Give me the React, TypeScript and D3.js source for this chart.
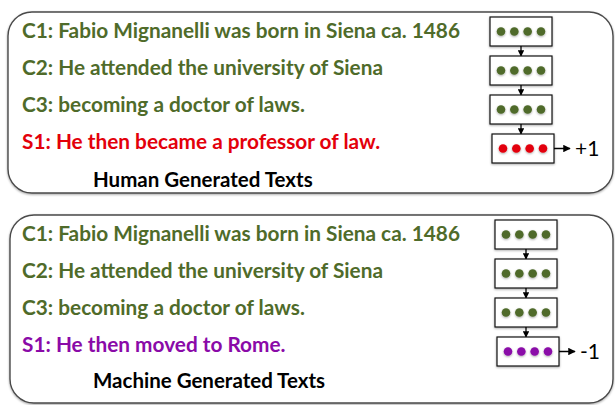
import { useEffect, useRef } from "react";
import * as d3 from "d3";

const panelTitles = ["Human Generated Texts", "Machine Generated Texts"];
const contextLines = [
  "C1: Fabio Mignanelli was born in Siena ca. 1486",
  "C2: He attended the university of Siena",
  "C3: becoming a doctor of laws.",
];
const candidateLines = ["S1: He then became a professor of law.", "S1: He then moved to Rome."];
const scores = ["+1", "-1"];
const candidateColors = ["#e3000b", "#8a0aa8"];
const dotsPerBox = [0, 1, 2, 3];

const GREEN = "#4f6b2a";
const FONT = "Lato, 'Open Sans', sans-serif";

export default function App() {
  const svgRef = useRef<SVGSVGElement | null>(null);

  useEffect(() => {
    const svgEl = svgRef.current;
    if (!svgEl) return;
    const width = 615;
    const height = 405;
    const svg = d3.select(svgEl);
    svg.selectAll("*").remove();
    svg.attr("viewBox", `0 0 ${width} ${height}`);

    const defs = svg.append("defs");
    defs
      .append("marker")
      .attr("id", "head")
      .attr("viewBox", "0 0 10 10")
      .attr("refX", 9)
      .attr("refY", 5)
      .attr("markerWidth", 5)
      .attr("markerHeight", 5)
      .attr("orient", "auto")
      .append("path")
      .attr("d", "M0,0 L10,5 L0,10 z")
      .attr("fill", "#000");
    const shadow = defs
      .append("filter")
      .attr("id", "soft")
      .attr("x", "-20%")
      .attr("y", "-20%")
      .attr("width", "140%")
      .attr("height", "160%");
    shadow
      .append("feDropShadow")
      .attr("dx", 0)
      .attr("dy", 1)
      .attr("stdDeviation", 0.8)
      .attr("flood-opacity", 0.35);

    // panel placement
    const panelY = d3.scalePoint<string>().domain(panelTitles).range([12, 215]);
    const rowY = d3.scalePoint<number>().domain([0, 1, 2, 3]).range([19, 130]);
    const boxY = d3.scalePoint<number>().domain([0, 1, 2, 3]).range([5, 122]);
    const boxH = 29;
    const dotX = d3.scalePoint<number>().domain(dotsPerBox).range([11, 51]);

    panelTitles.forEach((title, p) => {
      const y0 = panelY(title) ?? 0;
      const x0 = p === 0 ? 8 : 10;
      const boxX = p === 0 ? 490 : 495;
      const g = svg.append("g").attr("transform", `translate(0,${y0})`);

      g.append("rect")
        .attr("x", x0)
        .attr("y", 0)
        .attr("width", 613 - x0)
        .attr("height", p === 0 ? 181 : 188)
        .attr("rx", 24)
        .attr("fill", "#fff")
        .attr("stroke", "#4a4a4a")
        .attr("stroke-width", 1.4)
        .attr("filter", "url(#soft)");

      const lines = [...contextLines, candidateLines[p]];
      g.selectAll("text.line")
        .data(lines)
        .join("text")
        .attr("class", "line")
        .attr("x", 22)
        .attr("y", (_, i) => rowY(i) ?? 0)
        .attr("dy", "0.35em")
        .attr("font-family", FONT)
        .attr("font-weight", 700)
        .attr("font-size", 20.8)
        .attr("fill", (_, i) => (i < 3 ? GREEN : candidateColors[p]))
        .text((d) => d);

      g.append("text")
        .attr("x", 93)
        .attr("y", p === 0 ? 168 : 166)
        .attr("dy", "0.35em")
        .attr("font-family", FONT)
        .attr("font-weight", 700)
        .attr("font-size", 20.5)
        .attr("fill", "#000")
        .text(title);

      lines.forEach((_, i) => {
        const bx = boxX + (i === 3 ? 2 : 0);
        const by = boxY(i) ?? 0;
        const bg = g.append("g").attr("transform", `translate(${bx},${by})`);
        bg.append("rect")
          .attr("width", 62)
          .attr("height", boxH)
          .attr("fill", "#fff")
          .attr("stroke", "#111")
          .attr("stroke-width", 1.2)
          .attr("filter", "url(#soft)");
        bg.selectAll("circle")
          .data(dotsPerBox)
          .join("circle")
          .attr("cx", (d) => dotX(d) ?? 0)
          .attr("cy", boxH / 2)
          .attr("r", 4.3)
          .attr("fill", i < 3 ? GREEN : candidateColors[p])
          .attr("filter", "url(#soft)");

        if (i < 3) {
          const nextTop = boxY(i + 1) ?? 0;
          g.append("line")
            .attr("x1", bx + 31)
            .attr("x2", bx + 31)
            .attr("y1", by + boxH)
            .attr("y2", nextTop)
            .attr("stroke", "#000")
            .attr("stroke-width", 1.3)
            .attr("marker-end", "url(#head)");
        } else {
          g.append("line")
            .attr("x1", bx + 62)
            .attr("x2", bx + 78)
            .attr("y1", by + boxH / 2)
            .attr("y2", by + boxH / 2)
            .attr("stroke", "#000")
            .attr("stroke-width", 1.5)
            .attr("marker-end", "url(#head)");
          g.append("text")
            .attr("x", bx + 83)
            .attr("y", by + boxH / 2)
            .attr("dy", "0.35em")
            .attr("font-family", FONT)
            .attr("font-size", 21)
            .attr("fill", "#000")
            .text(scores[p]);
        }
      });
    });
  }, []);

  return (
    <svg
      ref={svgRef}
      width={615}
      height={405}
      style={{ position: "absolute", left: 0, top: 0, display: "block" }}
      role="img"
      aria-label="Human vs machine generated texts"
    />
  );
}
